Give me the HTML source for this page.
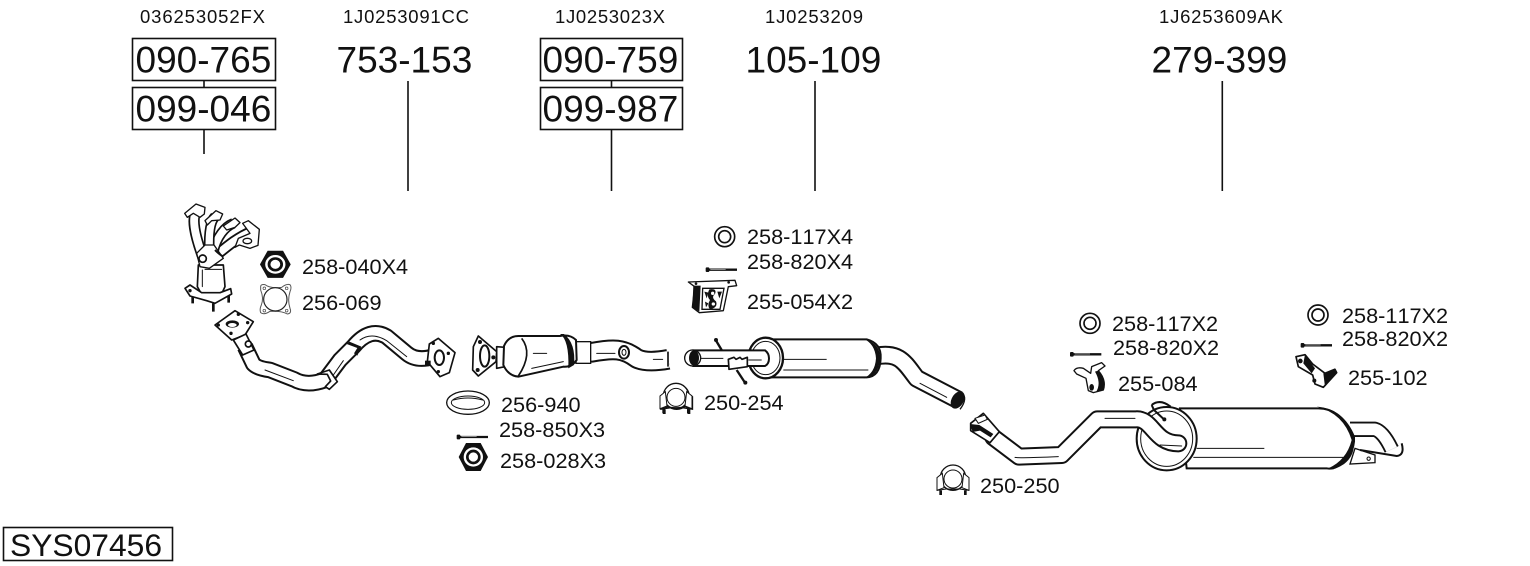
<!DOCTYPE html>
<html><head><meta charset="utf-8"><style>
html,body{margin:0;padding:0;background:#fff}
svg{display:block}
text{font-family:"Liberation Sans",Arial,sans-serif;fill:#111;font-kerning:none}
.b{font-size:37px}.s{font-size:18.500px}.l{font-size:21.700px}
.k{fill:#fff;stroke:#111;stroke-width:5;stroke-linejoin:round}
.t{fill:none;stroke:#111;stroke-width:3;stroke-linecap:round}
.pb{fill:none;stroke:#111;stroke-linejoin:round}
.pw{fill:none;stroke:#fff;stroke-linejoin:round}
</style></head><body>
<svg width="1530" height="566" viewBox="0 0 1530 566" xmlns="http://www.w3.org/2000/svg">
<rect width="1530" height="566" fill="#fff"/>
<defs>
<g id="washer"><circle r="30" fill="#fff" stroke="#111" stroke-width="5"/><circle r="18" fill="#fff" stroke="#111" stroke-width="5"/></g>
<g id="bolt"><rect x="0" y="-7" width="11" height="14" rx="3" fill="#111"/><path d="M8 0H94" stroke="#111" stroke-width="7"/><path d="M14 -1H60" stroke="#fff" stroke-width="1.500"/></g>
<g id="clamp"><circle cx="0" cy="38" r="38" fill="#fff" stroke="#111" stroke-width="4"/><circle cx="0" cy="42" r="27" fill="#fff" stroke="#111" stroke-width="3"/><path d="M-48 38L-32 25L-27 68L-48 76ZM48 38L32 25L27 68L48 76Z" fill="#fff" stroke="#111" stroke-width="3"/><path d="M-48 76L-20 72H20L48 76" fill="none" stroke="#111" stroke-width="3"/><path d="M-37 76V90M37 76V90" stroke="#111" stroke-width="8"/></g>
<g id="nut"><path d="M-44 0L-22 -42H22L44 0L22 42H-22Z" fill="#111"/><circle r="29" fill="#fff"/><circle r="18" fill="#fff" stroke="#111" stroke-width="8"/></g>
</defs>

<text class="s" x="140" y="23" textLength="125" lengthAdjust="spacing">036253052FX</text>
<text class="s" x="343" y="23" textLength="126" lengthAdjust="spacing">1J0253091CC</text>
<text class="s" x="555" y="23" textLength="110" lengthAdjust="spacing">1J0253023X</text>
<text class="s" x="765" y="23" textLength="98" lengthAdjust="spacing">1J0253209</text>
<text class="s" x="1159" y="23" textLength="124" lengthAdjust="spacing">1J6253609AK</text>

<g fill="#fff" stroke="#111" stroke-width="1.600">
<rect x="132.500" y="38.500" width="143" height="42"/>
<rect x="132.500" y="87.500" width="143" height="42"/>
<rect x="540.500" y="38.500" width="142" height="42"/>
<rect x="540.500" y="87.500" width="142" height="42"/>
<rect x="3.500" y="527.500" width="169" height="33"/>
</g>
<g stroke="#111" stroke-width="1.600">
<path d="M204 81V87M204 130V154M408 81V191M611.500 81V87M611.500 130V191M815 81V191M1222.300 81V191"/>
</g>
<text class="b" x="135.500" y="72.500">090-765</text>
<text class="b" x="135.500" y="121.500">099-046</text>
<text class="b" x="336.500" y="72.500">753-153</text>
<text class="b" x="542.500" y="72.500">090-759</text>
<text class="b" x="542.500" y="121.500">099-987</text>
<text class="b" x="745.500" y="72.500">105-109</text>
<text class="b" x="1151.500" y="72.500">279-399</text>
<text x="10" y="556" style="font-size:31.800px">SYS07456</text>

<text class="l" x="302" y="274">258-040X4</text>
<text class="l" x="302" y="310">256-069</text>
<text class="l" x="501" y="412">256-940</text>
<text class="l" x="499" y="437">258-850X3</text>
<text class="l" x="500" y="468">258-028X3</text>
<text class="l" x="704" y="410">250-254</text>
<text class="l" x="747" y="244">258-117X4</text>
<text class="l" x="747" y="269">258-820X4</text>
<text class="l" x="747" y="309">255-054X2</text>
<text class="l" x="1112" y="331">258-117X2</text>
<text class="l" x="1113" y="355">258-820X2</text>
<text class="l" x="1118" y="391">255-084</text>
<text class="l" x="980" y="493">250-250</text>
<text class="l" x="1342" y="323">258-117X2</text>
<text class="l" x="1342" y="346">258-820X2</text>
<text class="l" x="1348" y="385">255-102</text>

<!-- zone 1 -->
<g transform="translate(170,190) scale(.33333)">
 <!-- cat body and base -->
 <path class="k" d="M85 225L82 290L100 322H150L165 290L160 225Z"/>
 <path class="k" d="M45 295L60 285L95 308H150L182 296L185 312L135 340L110 332L60 318Z"/>
 <path d="M97 240V290M105 238H155" class="t"/>
 <path d="M68 320V340M130 340V365M176 318V338" stroke="#111" stroke-width="8"/>
 <circle cx="60" cy="302" r="5" fill="#111"/>
 <!-- runners, back to front -->
 <path class="pb" stroke-width="34" d="M245 125C205 140 170 170 140 195"/>
 <path class="pw" stroke-width="23" d="M245 125C205 140 170 170 140 195"/>
 <path class="pb" stroke-width="32" d="M190 100C165 110 140 140 130 185"/>
 <path class="pw" stroke-width="22" d="M190 100C165 110 140 140 130 185"/>
 <path class="pb" stroke-width="32" d="M135 80Q115 100 118 180"/>
 <path class="pw" stroke-width="22" d="M135 80Q115 100 118 180"/>
 <path class="pb" stroke-width="34" d="M78 68Q60 95 98 200"/>
 <path class="pw" stroke-width="24" d="M78 68Q60 95 98 200"/>
 <path d="M44 70L78 42L105 52L103 72L90 82L70 70L52 82Z" fill="#fff" stroke="#111" stroke-width="4" stroke-linejoin="round"/>
 <path d="M105 92L138 62L158 72L150 90L125 92L112 105Z" fill="#fff" stroke="#111" stroke-width="4" stroke-linejoin="round"/>
 <path d="M160 108L195 84L210 98L195 112L170 120Z" fill="#fff" stroke="#111" stroke-width="4" stroke-linejoin="round"/>
 <path d="M218 100L235 92L268 118L264 166L240 175L208 165L195 172L205 145L240 130Z" fill="#fff" stroke="#111" stroke-width="4" stroke-linejoin="round"/>
 <ellipse cx="232" cy="153" rx="13" ry="8" fill="#fff" stroke="#111" stroke-width="4"/>
 <path d="M80 190L105 165L132 165L160 205L118 235L90 230Z" fill="#fff" stroke="#111" stroke-width="4" stroke-linejoin="round"/>
 <circle cx="98" cy="206" r="11" fill="#fff" stroke="#111" stroke-width="5"/>
 <path d="M135 180Q150 195 160 200" fill="none" stroke="#111" stroke-width="6"/>

 <use href="#nut" transform="translate(316,223) scale(1.05,.97)"/>
 <path fill="#fff" stroke="#555" stroke-width="3" d="M272 290Q272 282 285 284Q300 296 335 292Q350 280 360 284Q366 292 360 305Q352 330 360 355Q366 370 352 372Q335 362 300 364Q282 376 272 368Q268 358 274 345Q282 325 272 300Z"/>
 <circle cx="316" cy="328" r="35" fill="none" stroke="#222" stroke-width="3.500"/>
 <circle cx="283" cy="295" r="4" fill="none" stroke="#444" stroke-width="2"/><circle cx="350" cy="295" r="4" fill="none" stroke="#444" stroke-width="2"/><circle cx="283" cy="362" r="4" fill="none" stroke="#444" stroke-width="2"/><circle cx="350" cy="362" r="4" fill="none" stroke="#444" stroke-width="2"/>

 <!-- front pipe -->
 <path class="pb" stroke-width="50" d="M225 470L250 522Q262 535 300 540L372 568Q410 590 465 570L510 510L550 470Q600 410 650 440L710 490Q740 515 790 500"/>
 <path class="pw" stroke-width="38" d="M225 470L250 522Q262 535 300 540L372 568Q410 590 465 570L510 510L550 470Q600 410 650 440L710 490Q740 515 790 500"/>
 <path class="t" d="M285 540L370 572M490 555L520 512M570 450Q605 425 650 452L710 500"/>
 <path d="M442 552L478 540L502 575L478 598L466 590L482 573L472 553Z" fill="#fff" stroke="#111" stroke-width="5" stroke-linejoin="round"/>
 <path d="M530 462L538 455L574 470L562 497L552 490L562 474Z" fill="#111"/>
 <path class="k" d="M135 405L195 362L250 395L225 435L185 450Z"/>
 <ellipse cx="187" cy="402" rx="20" ry="11" fill="#111"/>
 <ellipse cx="187" cy="405" rx="13" ry="6" fill="#fff"/>
 <circle cx="145" cy="405" r="5" fill="#111"/><circle cx="205" cy="373" r="5" fill="#111"/><circle cx="233" cy="398" r="5" fill="#111"/><circle cx="183" cy="430" r="5" fill="#111"/>
 <path class="k" d="M190 450L228 432L252 480L218 495Z"/>
 <circle cx="235" cy="462" r="9" fill="#fff" stroke="#111" stroke-width="5"/>
 <path class="k" d="M778 462L805 445L855 488L838 548L810 560L772 515Z"/>
 <ellipse cx="808" cy="503" rx="14" ry="22" fill="#fff" stroke="#111" stroke-width="6"/>
 <circle cx="790" cy="460" r="5" fill="#111"/><circle cx="835" cy="490" r="5" fill="#111"/><circle cx="805" cy="545" r="5" fill="#111"/>
 <path d="M765 512H782V528H765Z" fill="#111"/>
</g>

<!-- zone 2 -->
<g transform="translate(440,320) scale(.33333)">
 <path class="pb" stroke-width="62" d="M410 97H455C520 85 550 85 590 115Q620 130 685 118"/>
 <path class="pw" stroke-width="50" d="M410 97H455C520 85 550 85 590 115Q620 130 685 118"/>
 <path class="t" d="M470 100H525M640 118H668"/>
 <path d="M450 66V128M684 95V140" stroke="#111" stroke-width="5"/>
 <ellipse cx="552" cy="97" rx="15" ry="19" fill="#fff" stroke="#111" stroke-width="6"/>
 <ellipse cx="552" cy="97" rx="6" ry="9" fill="#fff" stroke="#111" stroke-width="3"/>
 <rect x="408" y="65" width="44" height="65" fill="#fff" stroke="#111" stroke-width="4"/>
 <path class="k" d="M170 80L195 82L195 140L170 145Z"/>
 <path fill="#fff" stroke="#111" stroke-width="6" stroke-linejoin="round" d="M192 78Q205 48 235 48H360Q390 42 408 60L410 120Q395 142 370 140L235 170Q205 168 190 135Z"/>
 <path d="M360 42Q388 60 385 145L402 135Q408 70 372 42Z" fill="#111"/>
 <path d="M245 55Q280 100 235 168" fill="none" stroke="#111" stroke-width="5"/>
 <path class="t" d="M280 100H320M275 145L370 125"/>
 <path class="k" d="M115 48L170 95L168 125L115 168L98 150L100 80Z"/>
 <ellipse cx="134" cy="108" rx="14" ry="32" fill="#fff" stroke="#111" stroke-width="6"/>
 <circle cx="120" cy="66" r="6" fill="#111"/><circle cx="160" cy="112" r="6" fill="#111"/><circle cx="113" cy="150" r="6" fill="#111"/>
 <ellipse cx="84" cy="248" rx="64" ry="35" fill="#fff" stroke="#111" stroke-width="4"/>
 <ellipse cx="84" cy="248" rx="50" ry="20" fill="#fff" stroke="#111" stroke-width="3"/>
 <path class="t" d="M40 240Q84 228 128 240"/>
 <use href="#bolt" transform="translate(50,351)"/>
 <use href="#nut" transform="translate(100,411)"/>
 <use href="#clamp" transform="translate(710,192)"/>
</g>

<!-- zone 3 -->
<g transform="translate(660,220) scale(.33333)">
 <use href="#washer" transform="translate(194,50)"/>
 <use href="#bolt" transform="translate(137,149)"/>
 <path d="M85 186L225 181L230 197L205 200L190 272L118 278L97 262L104 200Z" fill="#fff" stroke="#111" stroke-width="4" stroke-linejoin="round"/>
 <path d="M100 197L122 197L118 275L97 262Z" fill="#111"/>
 <path d="M128 205H192L180 268H126Z" fill="#fff" stroke="#111" stroke-width="4"/>
 <path d="M148 208Q172 205 165 222Q152 232 168 244Q175 262 150 268Q140 256 150 240Q138 228 148 208Z" fill="#111"/>
 <circle cx="158" cy="220" r="5" fill="#fff"/><circle cx="160" cy="252" r="5" fill="#fff"/>
 <path d="M133 215L145 218L140 235ZM135 245L145 250L138 262ZM172 215L186 215L178 235Z" fill="#111"/>
 <circle cx="108" cy="191" r="4" fill="#111"/><circle cx="206" cy="187" r="4" fill="#111"/>

 <path d="M167 360L185 390M230 450L255 488" stroke="#111" stroke-width="7"/>
 <circle cx="168" cy="360" r="6" fill="#111"/><circle cx="256" cy="488" r="6" fill="#111"/>

 <path class="pb" stroke-width="56" d="M650 408C720 395 735 430 770 475L895 540"/>
 <path class="pw" stroke-width="44" d="M650 408C720 395 735 430 770 475L895 540"/>
 <path class="t" d="M780 490L860 532"/>
 <ellipse cx="893" cy="540" rx="18" ry="28" transform="rotate(30 893 540)" fill="#111"/>
 <path d="M905 517Q925 535 900 568" fill="none" stroke="#111" stroke-width="4"/>
 <!-- muffler -->
 <path fill="#fff" stroke="#111" stroke-width="6" d="M320 358H620Q665 370 662 415Q660 470 620 472H320Z"/>
 <path d="M608 355Q665 370 660 420Q655 470 610 475Q645 460 648 415Q645 370 608 355Z" fill="#111"/>
 <path d="M365 418H500" stroke="#111" stroke-width="3"/>
 <path d="M370 450H625" stroke="#111" stroke-width="3"/>
 <ellipse cx="317" cy="414" rx="52" ry="61" fill="#fff" stroke="#111" stroke-width="7"/>
 <ellipse cx="317" cy="414" rx="43" ry="50" fill="#fff" stroke="#111" stroke-width="3"/>
 <path fill="#fff" stroke="#111" stroke-width="6" d="M100 391H315Q327 400 327 415Q327 432 315 438H100Z"/>
 <path d="M120 415H190M265 420H305" stroke="#111" stroke-width="3"/>
 <ellipse cx="98" cy="414" rx="24" ry="24" fill="#fff" stroke="#111" stroke-width="4"/>
 <ellipse cx="102" cy="414" rx="15" ry="23" fill="#111"/>
 <path d="M205 418L222 412L228 418L240 412L246 418L262 412V440L207 448Z" fill="#fff" stroke="#111" stroke-width="5" stroke-linejoin="round"/>
 <use href="#clamp" transform="translate(48,490)"/>
</g>

<!-- rear muffler -->
<g transform="translate(1130,340) scale(.33333)">
 <path class="pb" stroke-width="46" d="M660 268L735 268Q760 275 785 328"/>
 <path class="pw" stroke-width="35" d="M660 268L735 268Q760 275 785 328"/>
 <path d="M675 325L735 345V368L660 372Z" fill="#fff" stroke="#111" stroke-width="4"/>
 <circle cx="716" cy="356" r="5" fill="none" stroke="#111" stroke-width="3"/>
 <path d="M690 330L800 348Q825 345 815 310" fill="none" stroke="#111" stroke-width="6"/>
 <path d="M150 205H565Q630 205 665 280Q680 340 640 370Q610 390 590 385H170Z" fill="#fff" stroke="#111" stroke-width="6"/>
 <path d="M560 200Q640 205 675 290Q680 350 610 388L595 385Q650 360 665 300Q640 220 560 200Z" fill="#111"/>
 <path d="M200 325H403M190 352H650" stroke="#111" stroke-width="3"/>
 <ellipse cx="110" cy="296" rx="90" ry="95" fill="#fff" stroke="#111" stroke-width="6"/>
 <ellipse cx="110" cy="296" rx="78" ry="83" fill="#fff" stroke="#111" stroke-width="3"/>
 <!-- hanger 255-102 -->
 <path d="M498 50L525 44L548 72L585 100L615 88L620 98L580 142L555 132L548 105L505 80Z" fill="#fff" stroke="#111" stroke-width="5" stroke-linejoin="round"/>
 <path d="M580 100L615 85L620 98L585 140Z" fill="#111"/>
 <path d="M525 44L555 85L545 100L520 70Z" fill="#111"/>
 <circle cx="511" cy="63" r="7" fill="#111"/><circle cx="553" cy="122" r="6" fill="#111"/>
</g>
<!-- rear pipe over muffler -->
<g transform="translate(930,360) scale(.33333)">
 <path class="pb" stroke-width="54" stroke-linecap="round" d="M190 232L267 290L395 285L502 178H618C668 175 672 250 745 250"/>
 <path class="pw" stroke-width="42" stroke-linecap="round" d="M190 232L267 290L395 285L502 178H618C668 175 672 250 745 250"/>
 <path class="t" d="M255 292Q270 295 385 290M525 175H615M690 255L755 258"/>
 <path d="M122 190L160 160L208 215L180 248L122 212Z" fill="#fff" stroke="#111" stroke-width="5" stroke-linejoin="round"/>
 <path d="M120 192L148 195L190 222L182 232L150 212L128 216Z" fill="#111"/>
 <path d="M135 175L165 165L172 178L145 190Z" fill="#fff" stroke="#111" stroke-width="3"/>
 <!-- strap -->
 <path d="M665 135Q690 115 722 140M665 135L672 150L702 178" fill="none" stroke="#111" stroke-width="6"/>
 <circle cx="703" cy="178" r="6" fill="#111"/>
</g>
<!-- top right small parts -->
<g transform="translate(1060,300) scale(.33333)">
 <use href="#washer" transform="translate(90,70)"/>
 <use href="#bolt" transform="translate(30,163)"/>
 <path d="M42 212Q50 200 70 205L92 220L95 200L125 188L135 198L115 212Q140 240 130 270L100 278L85 272L78 235L50 222Z" fill="#fff" stroke="#111" stroke-width="4" stroke-linejoin="round"/>
 <path d="M115 212Q142 240 130 270L108 276Q125 250 105 215Z" fill="#111"/>
 <ellipse cx="95" cy="262" rx="7" ry="10" fill="#111"/>
</g>
<g transform="translate(1290,295) scale(.33333)">
 <use href="#washer" transform="translate(84,60)"/>
 <use href="#bolt" transform="translate(32,151)"/>
</g>
<use href="#clamp" transform="translate(953,465) scale(.33333)"/>
</svg>
</body></html>
